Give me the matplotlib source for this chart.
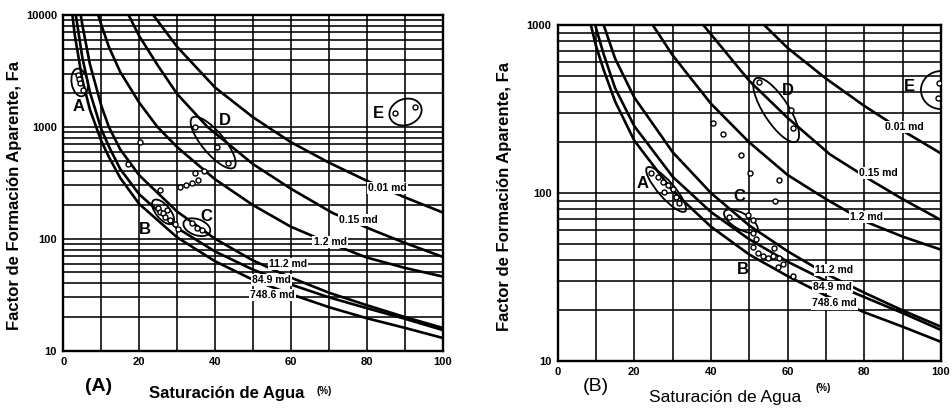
import matplotlib
matplotlib.use("Agg")
import matplotlib.pyplot as plt
from matplotlib.patches import Ellipse
from matplotlib.transforms import ScaledTranslation
from matplotlib.ticker import LogLocator, NullFormatter, FuncFormatter

plt.rcParams['font.family'] = ['Liberation Sans', 'DejaVu Sans']

# curvas de permeabilidad: Saturacion de agua (%) vs Factor de formacion aparente
perm_labels = ["0.01 md", "0.15 md", "1.2 md", "11.2 md", "84.9 md", "748.6 md"]
sw_001 = [23.7, 30, 40, 50, 60, 70, 80, 90, 100]
fa_001 = [10000, 5200, 2250, 1220, 730, 480, 330, 235, 172]
sw_015 = [17.2, 20, 25, 30, 38, 50, 60, 71, 82, 90, 100]
fa_015 = [10000, 6500, 3500, 1970, 1000, 465, 280, 170, 118, 92, 69]
sw_12 = [9.2, 10, 12, 15, 20, 24.8, 30, 40, 50, 60, 70, 80, 90, 100]
fa_12 = [10000, 8200, 5200, 3100, 1650, 1000, 660, 340, 200, 128, 92, 68, 55, 46]
sw_112 = [4.6, 5, 7, 10, 12, 15, 20, 30, 40, 50, 60, 70, 80, 90, 100]
fa_112 = [10000, 8200, 3650, 1550, 1000, 630, 370, 175, 100, 64, 45, 33, 25.5, 20, 16]
sw_849 = [3.3, 5, 7, 10, 12, 15, 20, 30, 40, 50, 60, 70, 80, 90, 100]
fa_849 = [10000, 4200, 2050, 960, 670, 420, 250, 125, 77, 53, 39, 30, 24, 19.3, 15.3]
sw_7486 = [2.4, 3, 5, 7, 10, 12, 15, 20, 30, 40, 50, 60, 70, 80, 90, 100]
fa_7486 = [10000, 6700, 2650, 1430, 750, 540, 350, 205, 103, 63, 43, 32, 24.5, 19.5, 16, 13]

curvas = [(sw_001, fa_001), (sw_015, fa_015), (sw_12, fa_12),
          (sw_112, fa_112), (sw_849, fa_849), (sw_7486, fa_7486)]

# datos medidos - grafico (A)
a_sw = [3.8, 4.2, 4.5, 5.2, 17.1, 20.2, 25.5, 30.8, 32.3, 33.8, 35.6, 34.6, 37.0,
        25.0, 25.5, 26.4, 27.3, 26.8, 28.1, 29.4, 30.3,
        33.8, 35.2, 36.5, 34.7, 40.4, 43.5, 87.4, 92.7]
a_fa = [2900, 2700, 2450, 2150, 470, 730, 275, 290, 300, 318, 335, 385, 405,
        190, 175, 169, 180, 155, 147, 136, 122,
        138, 124, 119, 1000, 665, 473, 1320, 1515]

# datos medidos - grafico (B)
b_sw = [24.3, 26.1, 27.4, 28.7, 27.8, 30.0, 30.9, 31.7,
        40.6, 43.2, 47.8, 50.2, 57.7, 56.8, 52.4, 60.9, 61.3,
        44.8, 49.6, 50.9, 50.9, 51.7,
        50.9, 52.2, 53.5, 54.8, 56.1, 56.5, 57.8, 58.7, 57.4, 61.3, 99.4, 99.1]
b_fa = [131, 125, 117, 111, 102, 105, 95, 87,
        260, 226, 168, 131, 119, 90, 460, 312, 243,
        72, 74, 69, 58, 53,
        48, 44, 42, 41, 42, 47, 41, 38, 36.5, 32, 450, 366]

fig = plt.figure(figsize=(9.52, 4.12), dpi=100)
axA = fig.add_axes([0.0665, 0.1488, 0.3985, 0.8148])
axB = fig.add_axes([0.5858, 0.1238, 0.4026, 0.8155])


def preparar(ax, ymax):
    ax.set_yscale('log')
    ax.set_xlim(0, 100)
    ax.set_ylim(10, ymax)
    ax.set_xticks([0, 20, 40, 60, 80, 100])
    ax.set_xticks([10, 30, 50, 70, 90], minor=True)
    ax.yaxis.set_major_locator(LogLocator(base=10, numticks=10))
    ax.yaxis.set_minor_locator(LogLocator(base=10, subs=range(2, 10), numticks=50))
    ax.yaxis.set_minor_formatter(NullFormatter())
    ax.yaxis.set_major_formatter(FuncFormatter(lambda v, p: "%d" % v))
    ax.grid(which='both', color='black', lw=1.15)
    ax.tick_params(which='both', length=0, labelsize=8, pad=4.5)
    for lab in ax.get_xticklabels() + ax.get_yticklabels():
        lab.set_fontweight('bold')
    for s in ax.spines.values():
        s.set_linewidth(1.7)
    for sw, fa in curvas:
        ax.plot(sw, fa, color='black', lw=1.9, zorder=3)


def elipse(ax, sw, fa, w, h, ang):
    tr = fig.dpi_scale_trans + ScaledTranslation(sw, fa, ax.transData)
    ax.add_patch(Ellipse((0, 0), w / 100, h / 100, angle=ang, transform=tr,
                         fill=False, ec='black', lw=1.3, zorder=4))


def etiquetas(ax, pos):
    for txt, (x, y) in zip(perm_labels, pos):
        ax.text(x, y, txt, fontsize=7.5, fontweight='bold', ha='center', va='center',
                zorder=5, bbox=dict(boxstyle='square,pad=0.1', fc='white', ec='none'))


# ---- (A)
preparar(axA, 10000)
axA.plot(a_sw, a_fa, 'o', ms=3.6, mfc='white', mec='black', mew=1.0, zorder=6)
etiquetas(axA, [(85.4, 283), (77.8, 147), (70.3, 94), (59.3, 60), (54.9, 43), (55.1, 31.5)])
elipse(axA, 4.3, 2495, 16, 28, 10)
elipse(axA, 26.3, 174, 30, 14, -50)
elipse(axA, 35.2, 127, 28, 16, -20)
elipse(axA, 39.5, 724, 65, 22, -50)
elipse(axA, 90.2, 1358, 33, 26, 20)
for t, x, y in [("A", 4.0, 1510), ("B", 21.5, 120), ("C", 37.8, 157), ("D", 42.6, 1150), ("E", 83, 1320)]:
    axA.text(x, y, t, fontsize=12, fontweight='bold', ha='center', va='center', zorder=6)
axA.set_ylabel("Factor de Formación Aparente, Fa", fontsize=12, fontweight='bold')
axA.yaxis.set_label_coords(-0.108, 0.462)

# ---- (B)
preparar(axB, 1000)
axB.plot(b_sw, b_fa, 'o', ms=3.6, mfc='white', mec='black', mew=1.0, zorder=6)
etiquetas(axB, [(90.4, 248), (83.6, 131), (80.6, 72), (72.2, 34.8), (71.7, 27.7), (72.2, 22)])
elipse(axB, 28.3, 105, 58, 16, -49)
elipse(axB, 47.8, 68, 38, 16, -30)
elipse(axB, 57.0, 312, 75, 25, -57)
elipse(axB, 100, 410, 40, 38, 0)
for t, x, y in [("A", 22.2, 114), ("B", 48.3, 35), ("C", 47.4, 95), ("D", 60, 410), ("E", 91.7, 430)]:
    axB.text(x, y, t, fontsize=12, fontweight='bold', ha='center', va='center', zorder=6)
axB.set_ylabel("Factor de Formación Aparente, Fa", fontsize=12, fontweight='bold')
axB.yaxis.set_label_coords(-0.118, 0.49)

# titulos de eje x y letras de panel
fig.text(0.238, 0.046, "Saturación de Agua", fontsize=12, fontweight='bold', ha='center', va='center')
fig.text(0.341, 0.051, "(%)", fontsize=7, fontweight='bold', ha='center', va='center')
fig.text(0.104, 0.061, "(A)", fontsize=14, fontweight='bold', ha='center', va='center')
fig.text(0.7616, 0.034, "Saturación de Agua", fontsize=12.5, ha='center', va='center')
fig.text(0.8645, 0.058, "(%)", fontsize=7, fontweight='bold', ha='center', va='center')
fig.text(0.626, 0.061, "(B)", fontsize=14, ha='center', va='center')

fig.savefig("out.png", dpi=100)
